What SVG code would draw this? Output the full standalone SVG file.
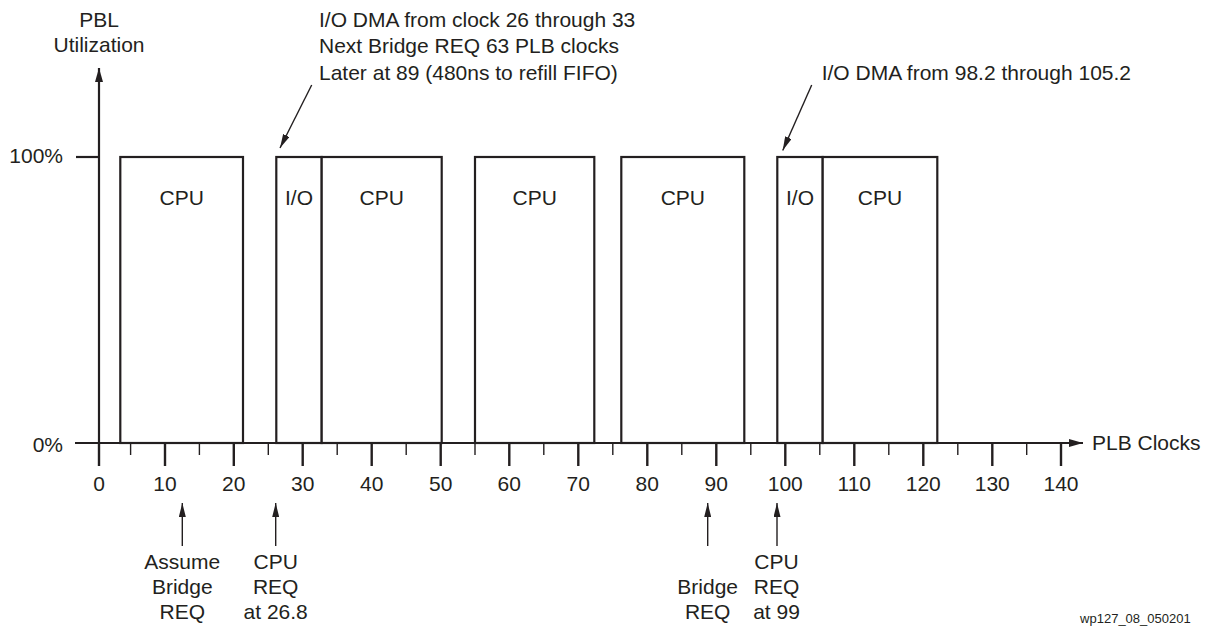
<svg xmlns="http://www.w3.org/2000/svg" width="1217" height="634" viewBox="0 0 1217 634">
<style>
text{font-family:"Liberation Sans",Arial,Helvetica,sans-serif;font-size:21px;fill:#231f20}
.m{text-anchor:middle}
.box{fill:#fff;stroke:#231f20;stroke-width:2.2}
.ax{stroke:#231f20;stroke-width:2.2;fill:none}
.maj{stroke:#231f20;stroke-width:2.4}
.min{stroke:#231f20;stroke-width:1.4}
.ar{stroke:#231f20;stroke-width:1.4;fill:none}
.wm{font-size:13px}
</style>
<defs>
<marker id="ah" markerUnits="userSpaceOnUse" markerWidth="14" markerHeight="8" refX="14" refY="4" orient="auto">
<path d="M0,0 L14,4 L0,8 z" fill="#231f20"/>
</marker>
<marker id="ahs" markerUnits="userSpaceOnUse" markerWidth="14" markerHeight="7" refX="14" refY="3.5" orient="auto">
<path d="M0,0 L14,3.5 L0,7 z" fill="#231f20"/>
</marker>
</defs>
<rect width="1217" height="634" fill="#fff"/>

<g id="axes">
<line class="ax" x1="99" y1="443" x2="99" y2="68" marker-end="url(#ah)"/>
<line class="ax" x1="75" y1="443" x2="1083" y2="443" marker-end="url(#ah)"/>
<line class="ax" x1="76" y1="157" x2="99" y2="157"/>
<text x="99" y="27" class="m">PBL</text>
<text x="99" y="52" class="m">Utilization</text>
<text x="63" y="163" text-anchor="end">100%</text>
<text x="63" y="452" text-anchor="end">0%</text>
<text x="1092" y="450">PLB Clocks</text>
</g>

<g id="ticks">
<line class="maj" x1="99" y1="443" x2="99" y2="466"/>
<line class="min" x1="130.6" y1="443" x2="130.6" y2="455"/>
<line class="maj" x1="165" y1="443" x2="165" y2="466"/>
<line class="min" x1="199.4" y1="443" x2="199.4" y2="455"/>
<line class="maj" x1="233.8" y1="443" x2="233.8" y2="466"/>
<line class="min" x1="268.3" y1="443" x2="268.3" y2="455"/>
<line class="maj" x1="302.7" y1="443" x2="302.7" y2="466"/>
<line class="min" x1="337.2" y1="443" x2="337.2" y2="455"/>
<line class="maj" x1="371.7" y1="443" x2="371.7" y2="466"/>
<line class="min" x1="406.2" y1="443" x2="406.2" y2="455"/>
<line class="maj" x1="440.7" y1="443" x2="440.7" y2="466"/>
<line class="min" x1="475" y1="443" x2="475" y2="455"/>
<line class="maj" x1="509.3" y1="443" x2="509.3" y2="466"/>
<line class="min" x1="543.8" y1="443" x2="543.8" y2="455"/>
<line class="maj" x1="578.3" y1="443" x2="578.3" y2="466"/>
<line class="min" x1="612.8" y1="443" x2="612.8" y2="455"/>
<line class="maj" x1="647.3" y1="443" x2="647.3" y2="466"/>
<line class="min" x1="681.8" y1="443" x2="681.8" y2="455"/>
<line class="maj" x1="716.3" y1="443" x2="716.3" y2="466"/>
<line class="min" x1="750.8" y1="443" x2="750.8" y2="455"/>
<line class="maj" x1="785.3" y1="443" x2="785.3" y2="466"/>
<line class="min" x1="819.8" y1="443" x2="819.8" y2="455"/>
<line class="maj" x1="854.3" y1="443" x2="854.3" y2="466"/>
<line class="min" x1="888.8" y1="443" x2="888.8" y2="455"/>
<line class="maj" x1="923.3" y1="443" x2="923.3" y2="466"/>
<line class="min" x1="957.8" y1="443" x2="957.8" y2="455"/>
<line class="maj" x1="992.3" y1="443" x2="992.3" y2="466"/>
<line class="min" x1="1026.7" y1="443" x2="1026.7" y2="455"/>
<line class="maj" x1="1061" y1="443" x2="1061" y2="466"/>
<text x="99" y="491" class="m">0</text>
<text x="165" y="491" class="m">10</text>
<text x="233.8" y="491" class="m">20</text>
<text x="302.7" y="491" class="m">30</text>
<text x="371.7" y="491" class="m">40</text>
<text x="440.7" y="491" class="m">50</text>
<text x="509.3" y="491" class="m">60</text>
<text x="578.3" y="491" class="m">70</text>
<text x="647.3" y="491" class="m">80</text>
<text x="716.3" y="491" class="m">90</text>
<text x="785.3" y="491" class="m">100</text>
<text x="854.3" y="491" class="m">110</text>
<text x="923.3" y="491" class="m">120</text>
<text x="992.3" y="491" class="m">130</text>
<text x="1061" y="491" class="m">140</text>
</g>

<g id="cpu1"><rect class="box" x="120.3" y="157" width="122.7" height="286"/><text x="181.7" y="205" class="m">CPU</text></g>
<g id="io1"><rect class="box" x="276.3" y="157" width="45.4" height="286"/><text x="299" y="205" class="m">I/O</text></g>
<g id="cpu2"><rect class="box" x="321.7" y="157" width="120" height="286"/><text x="381.7" y="205" class="m">CPU</text></g>
<g id="cpu3"><rect class="box" x="475" y="157" width="119.3" height="286"/><text x="534.7" y="205" class="m">CPU</text></g>
<g id="cpu4"><rect class="box" x="621.3" y="157" width="123" height="286"/><text x="682.8" y="205" class="m">CPU</text></g>
<g id="io2"><rect class="box" x="777.3" y="157" width="45.4" height="286"/><text x="800" y="205" class="m">I/O</text></g>
<g id="cpu5"><rect class="box" x="822.7" y="157" width="114.6" height="286"/><text x="880" y="205" class="m">CPU</text></g>
<line class="ax" x1="75" y1="443" x2="1070" y2="443"/>

<g id="note1">
<text x="319" y="26.5">I/O DMA from clock 26 through 33</text>
<text x="319" y="53">Next Bridge REQ 63 PLB clocks</text>
<text x="319" y="79.5">Later at 89 (480ns to refill FIFO)</text>
</g>
<g id="note2">
<text x="821.7" y="79.5">I/O DMA from 98.2 through 105.2</text>
</g>

<g id="lbl-assume"><text x="182.3" y="569" class="m">Assume</text><text x="182.3" y="594" class="m">Bridge</text><text x="182.3" y="619" class="m">REQ</text></g>
<g id="lbl-cpureq1"><text x="275.7" y="569" class="m">CPU</text><text x="275.7" y="594" class="m">REQ</text><text x="275.7" y="619" class="m">at 26.8</text></g>
<g id="lbl-bridge"><text x="707.7" y="594" class="m">Bridge</text><text x="707.7" y="619" class="m">REQ</text></g>
<g id="lbl-cpureq2"><text x="776.5" y="569" class="m">CPU</text><text x="776.5" y="594" class="m">REQ</text><text x="776.5" y="619" class="m">at 99</text></g>

<g id="connectors">
<line class="ar" x1="311.7" y1="85" x2="280" y2="148" marker-end="url(#ahs)"/>
<line class="ar" x1="811.7" y1="85" x2="782.7" y2="150.5" marker-end="url(#ahs)"/>
<line class="ar" x1="182.3" y1="546" x2="182.3" y2="503" marker-end="url(#ahs)"/>
<line class="ar" x1="275.7" y1="546" x2="275.7" y2="503" marker-end="url(#ahs)"/>
<line class="ar" x1="707.7" y1="546" x2="707.7" y2="503" marker-end="url(#ahs)"/>
<line class="ar" x1="777" y1="546" x2="777" y2="503" marker-end="url(#ahs)"/>
</g>

<text x="1190.7" y="623" text-anchor="end" class="wm">wp127_08_050201</text>
</svg>
